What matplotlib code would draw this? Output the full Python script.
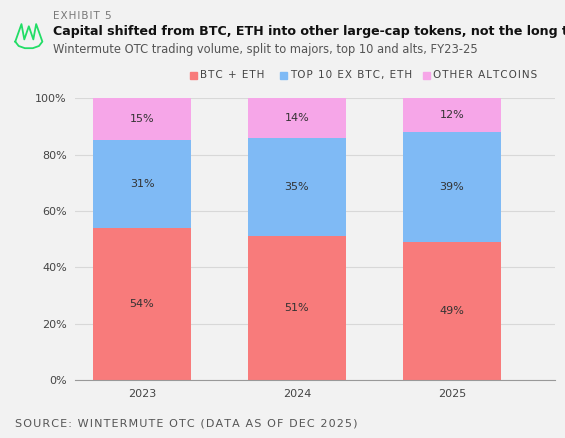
import matplotlib
matplotlib.use("Agg")
import matplotlib.pyplot as plt
from matplotlib.patches import Rectangle

years = ["2023", "2024", "2025"]
btc_eth = [54, 51, 49]
top10 = [31, 35, 39]
alts = [15, 14, 12]
series = [("BTC + ETH", btc_eth, "#f87b7b"), ("TOP 10 EX BTC, ETH", top10, "#7fbaf5"), ("OTHER ALTCOINS", alts, "#f6a6e8")]

def spaced(s):
    return "\u200a".join(s)

bg = "#f2f2f2"
fig = plt.figure(figsize=(5.65, 4.38), dpi=100, facecolor=bg)
ax = fig.add_axes([0.133, 0.132, 0.849, 0.644], facecolor=bg)
x = list(range(len(years)))
bottom = [0]*3
for name, vals, c in series:
    ax.bar(x, vals, bottom=bottom, width=0.63, color=c, zorder=2)
    for xi, v, b in zip(x, vals, bottom):
        ax.text(xi, b + v/2, f"{v}%", ha="center", va="center", fontsize=8, color="#333333", zorder=3)
    bottom = [b + v for b, v in zip(bottom, vals)]
ax.set_xlim(-0.432, 2.665)
ax.set_ylim(0, 100)
ax.set_yticks(range(0, 101, 20))
ax.set_yticklabels([f"{t}%" for t in range(0, 101, 20)], fontsize=8, color="#444444")
ax.set_xticks(x)
ax.set_xticklabels(years, fontsize=8, color="#444444")
ax.grid(axis="y", color="#d8d8d8", lw=0.8, zorder=0)
for s in ax.spines.values():
    s.set_visible(False)
ax.spines["bottom"].set_visible(True)
ax.spines["bottom"].set_color("#999999")
ax.tick_params(length=0, pad=6)

fig.text(0.094, 0.963, spaced("EXHIBIT 5"), fontsize=7.5, color="#777777", va="center")
fig.text(0.094, 0.927, "Capital shifted from BTC, ETH into other large-cap tokens, not the long tail",
         fontsize=9.1, color="#111111", va="center", fontweight="semibold")
fig.text(0.094, 0.888, "Wintermute OTC trading volume, split to majors, top 10 and alts, FY23-25", fontsize=8.3, color="#555555", va="center")
fig.text(0.027, 0.022, spaced("SOURCE: WINTERMUTE OTC (DATA AS OF DEC 2025)"), fontsize=8, color="#555555", va="bottom")
# logo
fig.lines.append(plt.Line2D([0.027,0.038,0.043,0.051,0.059,0.064,0.075,0.069,0.058,0.044,0.033,0.027],
                            [0.905,0.945,0.91,0.94,0.91,0.945,0.905,0.895,0.89,0.89,0.895,0.905],
                            transform=fig.transFigure, color="#22dd66", lw=1.3))

# legend
ly = 0.828
items = [(0.336, "BTC + ETH", series[0][2]), (0.496, "TOP 10 EX BTC, ETH", series[1][2]), (0.749, "OTHER ALTCOINS", series[2][2])]
for lxp, t, c in items:
    fig.patches.append(Rectangle((lxp, ly - 0.009), 0.012, 0.016, transform=fig.transFigure, color=c))
    fig.text(lxp + 0.018, ly, spaced(t), fontsize=7.5, color="#444444", va="center")
fig.savefig("out.png", dpi=100, facecolor=bg)
